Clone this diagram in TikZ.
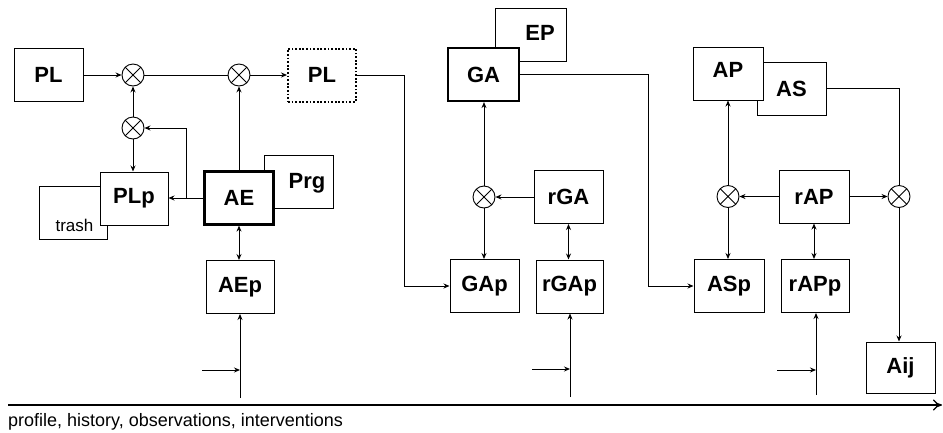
\documentclass[tikz,border=0pt]{standalone}
\usepackage{fontspec}
\setmainfont{Liberation Sans}
\usetikzlibrary{arrows.meta}

\tikzset{
  box/.style={draw, fill=white, line width=1pt, minimum width=69pt, minimum height=53pt,
    inner sep=0pt, font=\fontsize{22}{24}\selectfont\bfseries},
  mainbox/.style={box, line width=2.2pt},
  ghostbox/.style={box, line width=2pt, dash pattern=on 1.8pt off 1.8pt},
  boxtext/.style={font=\fontsize{22}{24}\selectfont\bfseries, inner sep=0pt},
  mult/.style={draw, circle, fill=white, line width=0.9pt, minimum size=22pt, inner sep=0pt,
    path picture={\draw[line width=0.9pt]
      (path picture bounding box.north west) -- (path picture bounding box.south east)
      (path picture bounding box.north east) -- (path picture bounding box.south west);}},
  link/.style={line width=0.85pt, -{Stealth[length=6pt,width=5pt]}},
  both/.style={line width=1pt, {Stealth[length=6pt,width=5pt]}-{Stealth[length=6pt,width=5pt]}},
}

\begin{document}
\begin{tikzpicture}[x=1pt,y=-1pt]
\useasboundingbox (0,0) rectangle (943,432);

% boxes lying behind
\node[box, minimum width=68pt,
  label={[font=\fontsize{17}{18}\selectfont, xshift=1.5pt, yshift=-12.5pt]center:trash}]
  (trash) at (73,212.5) {};
\node[box, label={[boxtext, xshift=8.5pt, yshift=-1.5pt]center:Prg}] (prg) at (298.5,181.5) {};
\node[box, minimum width=71pt, label={[boxtext, xshift=9.5pt, yshift=2pt]center:EP}] (ep) at (530.5,35) {};
\node[box] (as) at (791.5,88.5) {AS};

% front boxes
\node[box] (pl) at (48.5,75) {PL};
\node[ghostbox, minimum width=68pt] (plnext) at (322,75) {PL};
\node[box, minimum width=68pt] (plp) at (134,198.5) {PLp};
\node[mainbox] (ae) at (239,198) {AE};
\node[box, minimum width=68pt] (aep) at (240,287) {AEp};

\node[mainbox, minimum width=71pt] (ga) at (483.5,74.5) {GA};
\node[box] (gap) at (484.5,286) {GAp};
\node[box] (rga) at (568.5,197) {rGA};
\node[box, minimum width=67pt] (rgap) at (569.5,286.5) {rGAp};

\node[box, minimum width=70pt, label={[boxtext, yshift=4pt]center:AP}] (ap) at (728,73.5) {};
\node[box, minimum width=70pt] (asp) at (729,286) {ASp};
\node[box, minimum width=70pt] (rap) at (814,196.5) {rAP};
\node[box, minimum width=68pt] (rapp) at (815,286) {rAPp};
\node[box, minimum height=51pt] (aij) at (900.5,367.5) {Aij};

% products
\node[mult] (m1) at (133,75) {};
\node[mult] (m2) at (239,75) {};
\node[mult] (m3) at (133,128) {};
\node[mult] (mga) at (484,197) {};
\node[mult] (mapl) at (728,196.5) {};
\node[mult] (mapr) at (899,196.5) {};

% free ends
\coordinate (tap) at (186,198);
\coordinate (aein) at (240,398);
\coordinate (aefeed) at (202,370);
\coordinate (rgain) at (570,397);
\coordinate (rgafeed) at (532,369);
\coordinate (rapin) at (816,395);
\coordinate (rapfeed) at (777,370);
\coordinate (t0) at (8,405);
\coordinate (t1) at (942,405);

% PL loop
\draw[link] (pl) -- (m1);
\draw[line width=0.6pt] (m1) -- (m2);
\draw[link] (m2) -- (plnext);
\draw[link] (m3) -- (m1);
\draw[link] (m3) -- (m3 |- plp.north);
\draw[link] (ae.west) -- (ae.west -| plp.east);
\draw[link] (tap) |- (m3);
\draw[link] (ae) -- (m2);
\draw[both] (ae.south) -- (ae.south |- aep.north);
\draw[link] (aein) -- (aein |- aep.south);
\draw[link] (aefeed) -- (aefeed -| aein);

% GA
\draw[link] (plnext.east) -- ++(47,0) |- (gap);
\draw[link] (mga) -- (mga |- ga.south);
\draw[link] (mga) -- (mga |- gap.north);
\draw[link] (rga) -- (mga);
\draw[both] (rga.south) -- (rga.south |- rgap.north);
\draw[link] (rgain) -- (rgain |- rgap.south);
\draw[link] (rgafeed) -- (rgafeed -| rgain);

% AP
\draw[link] (ga.east) -- ++(128,0) |- (asp);
\draw[link] (mapl) -- (mapl |- ap.south);
\draw[link] (mapl) -- (mapl |- asp.north);
\draw[link] (rap) -- (mapl);
\draw[link] (rap) -- (mapr);
\draw[line width=0.85pt] (as.east) -| (mapr);
\draw[link] (mapr) -- (mapr |- aij.north);
\draw[both] (rap.south) -- (rap.south |- rapp.north);
\draw[link] (rapin) -- (rapin |- rapp.south);
\draw[link] (rapfeed) -- (rapfeed -| rapin);

% time line
\draw[line width=1.3pt, -{To[length=9pt,width=11pt]}] (t0) -- (t1);
\node[anchor=base west, inner sep=0pt, font=\fontsize{18}{20}\selectfont] (axislabel) at (8,426)
  {profile, history, observations, interventions};
\end{tikzpicture}
\end{document}
